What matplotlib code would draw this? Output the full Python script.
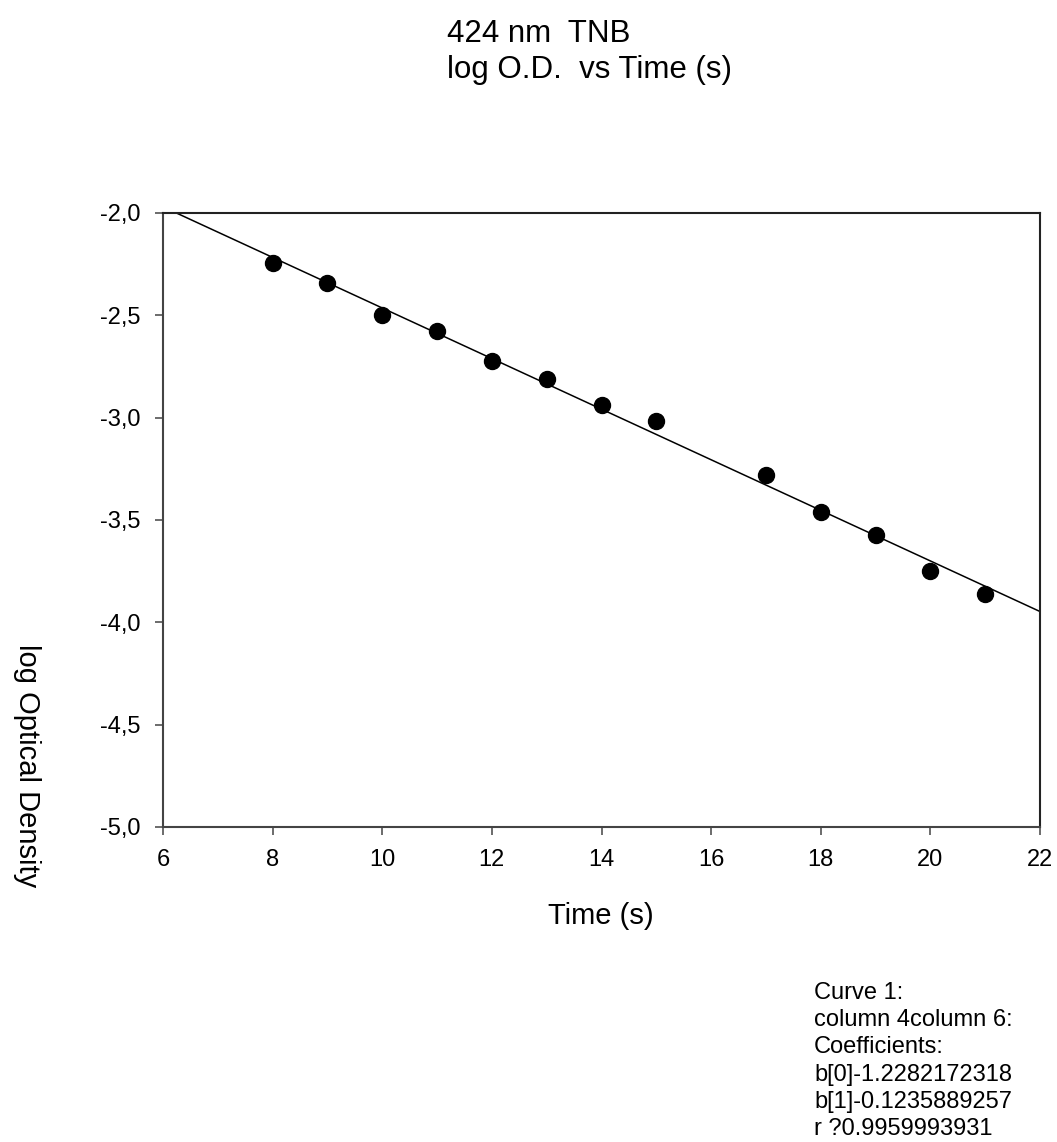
import matplotlib
matplotlib.use("Agg")
import matplotlib.pyplot as plt
import numpy as np
from matplotlib.ticker import FixedLocator, FixedFormatter

plt.rcParams['font.family'] = ['Liberation Sans', 'DejaVu Sans']

# Data
time_s = [8, 9, 10, 11, 12, 13, 14, 15, 17, 18, 19, 20, 21]
log_od = [-2.245, -2.342, -2.497, -2.575, -2.725, -2.810, -2.940,
          -3.015, -3.281, -3.459, -3.572, -3.748, -3.861]
b0 = -1.2282172318
b1 = -0.1235889257

x_ticks = [6, 8, 10, 12, 14, 16, 18, 20, 22]
y_ticks = [-5.0, -4.5, -4.0, -3.5, -3.0, -2.5, -2.0]
y_tick_labels = ['-5,0', '-4,5', '-4,0', '-3,5', '-3,0', '-2,5', '-2,0']

title_lines = ['424 nm  TNB', 'log O.D.  vs Time (s)']
x_label = 'Time (s)'
y_label = 'log Optical Density'
note_lines = ['Curve 1:', 'column 4column 6:', 'Coefficients:',
              'b[0]-1.2282172318', 'b[1]-0.1235889257', 'r ?0.9959993931']

W, H = 1057, 1142
fig = plt.figure(figsize=(W / 100, H / 100), dpi=100)
ax = fig.add_axes([163 / W, 1 - 827 / H, (1040 - 163) / W, (827 - 213) / H])

ax.set_xlim(6, 22)
ax.set_ylim(-5.0, -2.0)

xl = np.array(ax.get_xlim())
ax.plot(xl, b0 + b1 * xl, color='black', lw=1.1, zorder=2)
ax.plot(time_s, log_od, 'o', color='black', ms=11.5, zorder=3)

ax.xaxis.set_major_locator(FixedLocator(x_ticks))
ax.yaxis.set_major_locator(FixedLocator(y_ticks))
ax.yaxis.set_major_formatter(FixedFormatter(y_tick_labels))

spine_col = '#444444'
for side in ['left', 'bottom']:
    ax.spines[side].set_color(spine_col)
    ax.spines[side].set_linewidth(1.5)
for side in ['top', 'right']:
    ax.spines[side].set_color('#222222')
    ax.spines[side].set_linewidth(1.5)

ax.tick_params(axis='both', direction='out', length=6, width=1.1,
               color=spine_col, labelsize=17)
ax.tick_params(axis='x', pad=10)
ax.tick_params(axis='y', pad=10)
ax.tick_params(top=False, right=False)

# Title (left aligned two lines)
fig.text(447 / W, 1 - 42 / H, title_lines[0], fontsize=22.5, ha='left', va='baseline')
fig.text(447 / W, 1 - 78 / H, title_lines[1], fontsize=22.5, ha='left', va='baseline')

# Axis labels
fig.text(601 / W, 1 - 924 / H, x_label, fontsize=21, ha='center', va='baseline')
fig.text(27 / W, 1 - 766 / H, y_label, fontsize=21, rotation=-90,
         ha='center', va='center')

# Regression notes
for i, line in enumerate(note_lines):
    fig.text(814 / W, 1 - (999 + i * 27.2) / H, line, fontsize=17,
             ha='left', va='baseline')

fig.savefig('out.png', dpi=100)
